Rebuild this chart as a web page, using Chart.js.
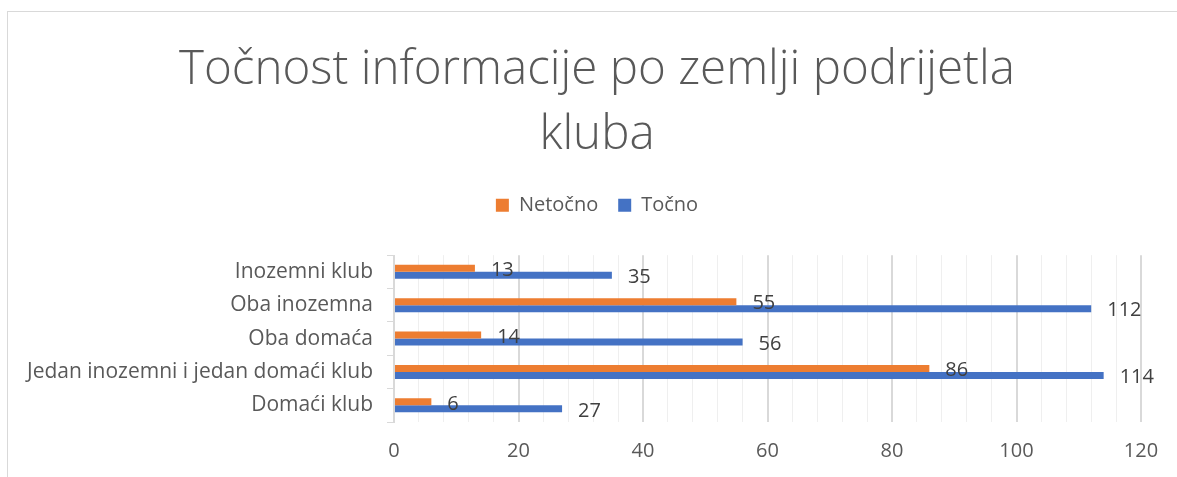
<!DOCTYPE html>
<html>
<head>
<meta charset="utf-8">
<script src="https://cdn.jsdelivr.net/npm/chart.js@4.4.0/dist/chart.umd.min.js"></script>
<style>
  html, body { margin: 0; padding: 0; background: #ffffff; }
  #wrap { position: relative; width: 1177px; height: 477px; }
</style>
</head>
<body>
<div id="wrap"><canvas id="c" width="1177" height="477"></canvas></div>
<script>
const categories = ['Inozemni klub', 'Oba inozemna', 'Oba domaća', 'Jedan inozemni i jedan domaći klub', 'Domaći klub'];
const netocno = [13, 55, 14, 86, 6];
const tocno = [35, 112, 56, 114, 27];
const seriesNames = ['Netočno', 'Točno'];
const xTickLabels = [0, 20, 40, 60, 80, 100, 120];
const titleLines = ['Točnost informacije po zemlji podrijetla', 'kluba'];

const TEXT = '#595959';
const FONT = "'Open Sans', 'Noto Sans', sans-serif";

const borderPlugin = {
  id: 'frame',
  beforeDraw(chart) {
    const ctx = chart.ctx;
    ctx.save();
    ctx.fillStyle = '#ffffff';
    ctx.fillRect(0, 0, chart.width, chart.height);
    ctx.strokeStyle = '#d9d9d9';
    ctx.lineWidth = 1;
    ctx.strokeRect(7.5, 11.5, 1400, 600);
    ctx.restore();
  }
};

const legendGap = {
  id: 'legendGap',
  beforeLayout(chart) {
    const lg = chart.legend;
    if (lg && !lg._gapPatched) {
      const orig = lg.fit.bind(lg);
      lg.fit = function () { orig(); this.height += 30; };
      lg._gapPatched = true;
    }
  }
};

const labelPlugin = {
  id: 'valueLabels',
  afterDatasetsDraw(chart) {
    const ctx = chart.ctx;
    ctx.save();
    ctx.font = "20px " + FONT;
    ctx.fillStyle = '#404040';
    ctx.textAlign = 'left';
    ctx.textBaseline = 'middle';
    chart.data.datasets.forEach((ds, di) => {
      const meta = chart.getDatasetMeta(di);
      meta.data.forEach((el, i) => {
        ctx.fillText(String(ds.data[i]), el.x + 16, el.y + 2);
      });
    });
    ctx.restore();
  }
};

new Chart(document.getElementById('c'), {
  type: 'bar',
  data: {
    labels: categories,
    datasets: [
      { label: seriesNames[0], data: netocno, backgroundColor: '#ED7D31', borderWidth: 0 },
      { label: seriesNames[1], data: tocno, backgroundColor: '#4472C4', borderWidth: 0 }
    ]
  },
  options: {
    indexAxis: 'y',
    responsive: false,
    animation: false,
    events: [],
    layout: { padding: { top: 38, right: 36, bottom: 0, left: 53 } },
    datasets: { bar: { barPercentage: 1.0, categoryPercentage: 0.42 } },
    plugins: {
      tooltip: { enabled: false },
      title: {
        display: true,
        text: titleLines,
        color: TEXT,
        font: { family: FONT, size: 47.5, weight: '300', lineHeight: 1.37 },
        padding: { top: 0, bottom: 7 }
      },
      legend: {
        display: true,
        position: 'top',
        labels: {
          color: TEXT,
          font: { family: FONT, size: 20 },
          boxWidth: 13,
          boxHeight: 13,
          padding: 20
        }
      }
    },
    scales: {
      x: {
        min: 0,
        max: 120,
        ticks: {
          stepSize: 4,
          autoSkip: false,
          maxRotation: 0,
          color: TEXT,
          font: { family: FONT, size: 20 },
          padding: 17,
          callback: (v) => xTickLabels.includes(v) ? String(v) : ''
        },
        grid: {
          drawTicks: false,
          color: (ctx) => (ctx.tick && xTickLabels.includes(ctx.tick.value)) ? '#d9d9d9' : '#efefef',
          lineWidth: (ctx) => (ctx.tick && xTickLabels.includes(ctx.tick.value)) ? 2 : 1
        },
        border: { display: false },
        afterFit: (s) => { s.height = 55; }
      },
      y: {
        ticks: {
          color: TEXT,
          font: { family: FONT, size: 21 },
          padding: 14
        },
        grid: {
          offset: true,
          drawOnChartArea: false,
          drawTicks: true,
          tickLength: 7,
          color: '#d9d9d9'
        },
        border: { display: true, color: '#d9d9d9', width: 1 },
        afterFit: (s) => {
          s.width = 341;
          s._computeLabelArea = function () { return undefined; };
        }
      }
    }
  },
  plugins: [borderPlugin, legendGap, labelPlugin]
});
</script>
</body>
</html>
